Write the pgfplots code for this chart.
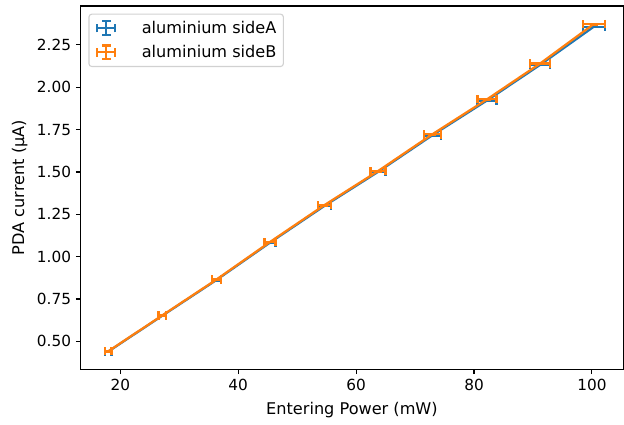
\documentclass[border=0pt]{standalone}
\usepackage{fontspec}
\setmainfont{DejaVu Sans}
\usepackage{pgfplots}
\pgfplotsset{compat=1.18}
\definecolor{c0}{HTML}{1F77B4}
\definecolor{c1}{HTML}{FF7F0E}

\pgfplotstableread{
x    y      ex    ey
17.97 0.440 0.56 0.002
27.1  0.651 0.60 0.002
36.3  0.862 0.75 0.002
45.4  1.083 0.93 0.002
54.6  1.299 1.10 0.002
63.7  1.500 1.27 0.002
72.9  1.716 1.44 0.002
82.2  1.922 1.60 0.002
91.2  2.132 1.70 0.002
100.3 2.357 1.86 0.002
}\sideA
\pgfplotstableread{
x    y      ex    ey
17.97 0.442 0.56 0.002
27.1  0.653 0.60 0.002
36.3  0.865 0.75 0.002
45.4  1.087 0.93 0.002
54.6  1.304 1.10 0.002
63.7  1.505 1.27 0.002
72.9  1.722 1.44 0.002
82.2  1.929 1.60 0.002
91.2  2.140 1.70 0.002
100.3 2.373 1.86 0.002
}\sideB

\begin{document}
\begin{tikzpicture}
\begin{axis}[
  scale only axis,
  width=390.2pt, height=261.4pt,
  xmin=13.3, xmax=105.3, ymin=0.335, ymax=2.48,
  xtick={20,40,60,80,100},
  ytick={0.5,0.75,1.0,1.25,1.5,1.75,2.0,2.25},
  yticklabel style={/pgf/number format/.cd, fixed, fixed zerofill, precision=2},
  /pgf/number format/assume math mode=true,
  tick align=outside,
  xtick pos=bottom, ytick pos=left,
  major tick length=3.5pt,
  tick style={black, line width=0.8pt},
  axis line style={line width=0.8pt},
  ticklabel style={font=\fontsize{11}{13}\selectfont},
  label style={font=\fontsize{11.6}{14}\selectfont},
  xlabel={Entering Power (mW)},
  ylabel={PDA current (µA)},
  xlabel style={yshift=-1.5pt},
  ylabel style={yshift=0pt},
  legend cell align=left,
  legend style={at={(rel axis cs:0,1)}, anchor=north west, xshift=5.5pt, yshift=-5.5pt,
    draw=black!18, rounded corners=2pt, line width=0.8pt,
    font=\fontsize{11.6}{14}\selectfont, inner xsep=3pt, inner ysep=3pt,
    row sep=3pt},
  legend image code/.code={
    \path[draw=none] (-3pt,0pt) -- (30pt,0pt);
    \draw[#1, line width=1.6pt] (0pt,0pt) -- (13pt,0pt);
    \draw[#1, line width=1.6pt] (6.5pt,-5pt) -- (6.5pt,5pt);
    \draw[#1, line width=1.6pt] (0pt,-3pt) -- (0pt,3pt);
    \draw[#1, line width=1.6pt] (13pt,-3pt) -- (13pt,3pt);
    \draw[#1, line width=1.6pt] (3.5pt,-5pt) -- (9.5pt,-5pt);
    \draw[#1, line width=1.6pt] (3.5pt,5pt) -- (9.5pt,5pt);
  },
]
\addplot[c0, line width=1.6pt, no markers,
  error bars/.cd, x dir=both, x explicit, y dir=both, y explicit,
  error mark=|,
  error mark options={c0, line width=1.6pt, mark size=3pt},
  error bar style={c0, line width=1.6pt}]
  table[x=x, y=y, x error=ex, y error=ey] {\sideA};
\addlegendentry{aluminium sideA}
\addplot[c1, line width=1.6pt, no markers,
  error bars/.cd, x dir=both, x explicit, y dir=both, y explicit,
  error mark=|,
  error mark options={c1, line width=1.6pt, mark size=3pt},
  error bar style={c1, line width=1.6pt}]
  table[x=x, y=y, x error=ex, y error=ey] {\sideB};
\addlegendentry{aluminium sideB}
\end{axis}
\pgfresetboundingbox
\path (current axis.south west) ++(-58.1pt,-39.6pt) coordinate (bbA);
\path (current axis.north east) ++(0.6pt,4.3pt) coordinate (bbB);
\useasboundingbox (bbA) rectangle (bbB);
\end{tikzpicture}
\end{document}
